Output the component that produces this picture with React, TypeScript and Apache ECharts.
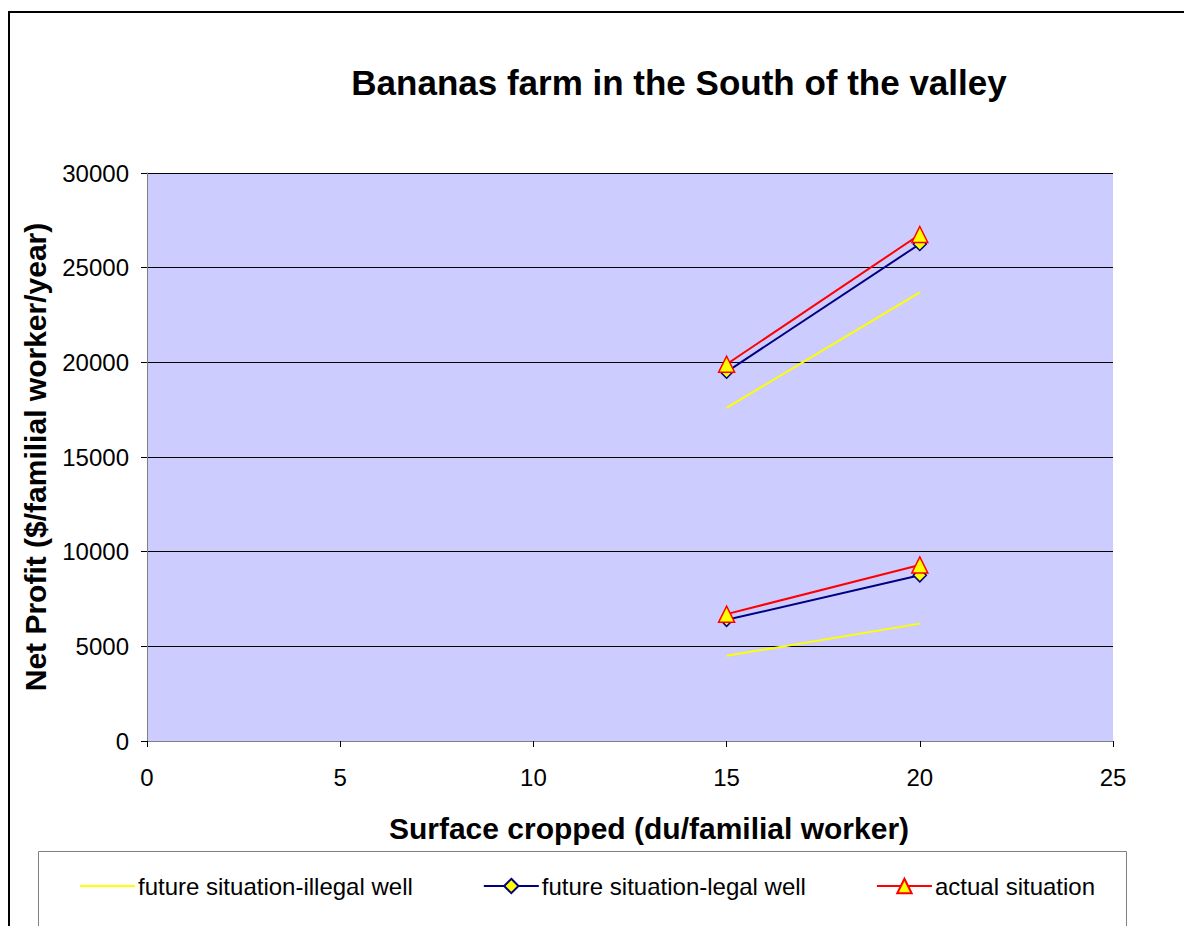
import React, { useEffect, useRef } from "react";
import * as echarts from "echarts";

const seriesNames = [
  "future situation-illegal well",
  "future situation-legal well",
  "actual situation",
];
const xValues = [15, 20];
// upper group (first farm type) and lower group (second farm type)
const illegalUpper = [17600, 23700];
const illegalLower = [4500, 6200];
const legalUpper = [19500, 26250];
const legalLower = [6400, 8750];
const actualUpper = [19900, 26750];
const actualLower = [6700, 9300];
const yTicks = [0, 5000, 10000, 15000, 20000, 25000, 30000];
const xTicks = [0, 5, 10, 15, 20, 25];

const FONT = "Arial, 'Liberation Sans', sans-serif";

function pairs(ys: number[]) {
  return xValues.map((x, i) => [x, ys[i]]);
}

export default function App() {
  const ref = useRef<HTMLDivElement>(null);
  useEffect(() => {
    if (!ref.current) return;
    const chart = echarts.init(ref.current, undefined, { renderer: "svg" });
    const illegalStyle = {
      type: "line" as const,
      name: seriesNames[0],
      showSymbol: false,
      symbol: "none",
      lineStyle: { color: "#FFFF00", width: 2 },
      itemStyle: { color: "#FFFF00" },
      z: 2,
    };
    const legalStyle = {
      type: "line" as const,
      name: seriesNames[1],
      symbol: "diamond",
      symbolSize: 13,
      lineStyle: { color: "#000080", width: 2 },
      itemStyle: { color: "#FFFF00", borderColor: "#000080", borderWidth: 1.5 },
      z: 3,
    };
    const actualStyle = {
      type: "line" as const,
      name: seriesNames[2],
      symbol: "triangle",
      symbolSize: 16,
      lineStyle: { color: "#FF0000", width: 2 },
      itemStyle: { color: "#FFFF00", borderColor: "#FF0000", borderWidth: 1.5 },
      z: 4,
    };
    chart.setOption({
      animation: false,
      backgroundColor: "#FFFFFF",
      title: {
        text: "Bananas farm in the South of the valley",
        left: 674,
        top: 60,
        textAlign: "center",
        textStyle: { fontFamily: FONT, fontSize: 35, fontWeight: "bold", color: "#000" },
      },
      graphic: [
        {
          type: "rect",
          shape: { x: 9, y: 12, width: 1200, height: 940 },
          style: { fill: "none", stroke: "#000", lineWidth: 2 },
          silent: true,
        },
        {
          type: "rect",
          shape: { x: 38.5, y: 851.5, width: 1088, height: 120 },
          style: { fill: "none", stroke: "#808080", lineWidth: 1 },
          silent: true,
        },
      ],
      legend: {
        data: [
          { name: seriesNames[0], itemStyle: { color: "rgba(0,0,0,0)", borderWidth: 0, opacity: 0 } },
          { name: seriesNames[1] },
          { name: seriesNames[2] },
        ],
        left: 79,
        top: 874,
        itemWidth: 55,
        itemHeight: 18,
        itemGap: 70,
        textStyle: { fontFamily: FONT, fontSize: 24, color: "#000", padding: [0, 0, 0, -2] },
        padding: 0,
      },
      grid: {
        left: 147,
        right: 71,
        top: 173,
        bottom: 185,
        show: true,
        backgroundColor: "#CCCCFF",
        borderWidth: 0,
      },
      xAxis: {
        type: "value",
        min: xTicks[0],
        max: xTicks[xTicks.length - 1],
        interval: 5,
        name: "Surface cropped (du/familial worker)",
        nameLocation: "middle",
        nameGap: 72,
        nameTextStyle: {
          fontFamily: FONT,
          fontSize: 30,
          fontWeight: "bold",
          color: "#000",
          padding: [0, 0, 0, 38],
        },
        axisLine: { show: true, lineStyle: { color: "#808080", width: 1 } },
        axisTick: { show: true, inside: false, length: 6, lineStyle: { color: "#000" } },
        axisLabel: { fontFamily: FONT, fontSize: 24, color: "#000", margin: 24 },
        splitLine: { show: false },
      },
      yAxis: {
        type: "value",
        min: yTicks[0],
        max: yTicks[yTicks.length - 1],
        interval: 5000,
        name: "Net Profit ($/familial worker/year)",
        nameLocation: "middle",
        nameGap: 97,
        nameTextStyle: { fontFamily: FONT, fontSize: 30, fontWeight: "bold", color: "#000" },
        axisLine: { show: true, lineStyle: { color: "#808080", width: 1 } },
        axisTick: { show: true, inside: false, length: 6, lineStyle: { color: "#000" } },
        axisLabel: {
          fontFamily: FONT,
          fontSize: 24,
          color: "#000",
          margin: 18,
          formatter: (v: number) => String(v),
        },
        splitLine: { show: true, lineStyle: { color: "#000", width: 1 } },
      },
      series: [
        { ...illegalStyle, data: pairs(illegalUpper) },
        { ...illegalStyle, data: pairs(illegalLower) },
        { ...legalStyle, data: pairs(legalUpper) },
        { ...legalStyle, data: pairs(legalLower) },
        { ...actualStyle, data: pairs(actualUpper) },
        { ...actualStyle, data: pairs(actualLower) },
      ],
    });
    return () => chart.dispose();
  }, []);
  return <div ref={ref} style={{ width: 1184, height: 926, position: "absolute", left: 0, top: 0 }} />;
}
